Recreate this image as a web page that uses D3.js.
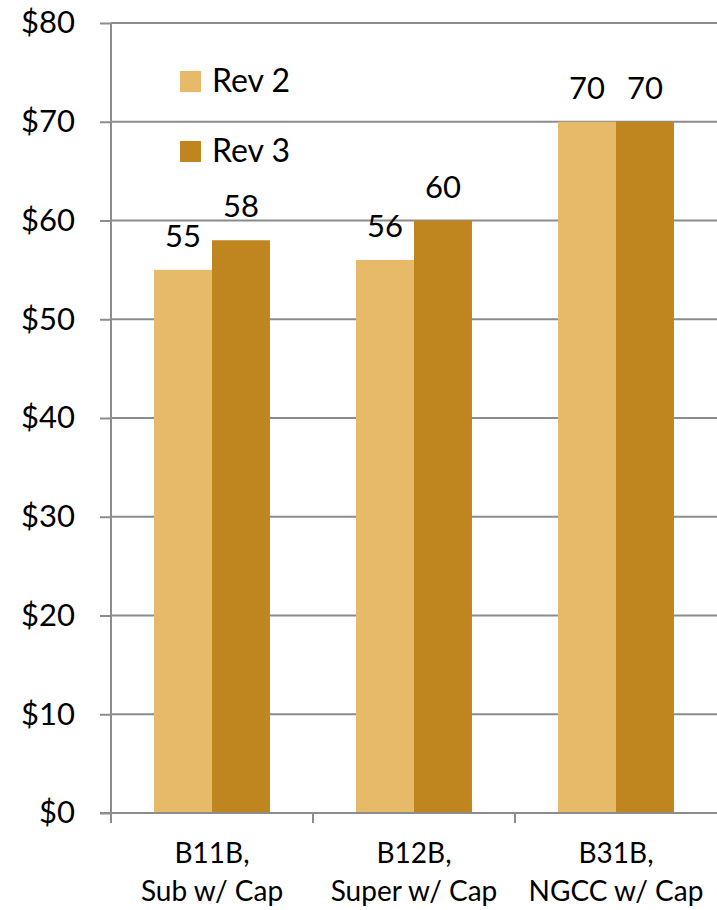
<!DOCTYPE html>
<html>
<head>
<meta charset="utf-8">
<script src="https://cdn.jsdelivr.net/npm/d3@7"></script>
<style>
  html, body { margin: 0; padding: 0; background: #fff; }
  svg { display: block; }
  text { font-family: Lato, "Open Sans", sans-serif; fill: #000; }
</style>
</head>
<body>
<svg id="chart" width="717" height="910"></svg>
<script>
// Categories (two-line labels) and the series plotted for each
const categories = ["B11B", "B12B", "B31B"];
const categoryLines = [
  ["B11B,", "Sub w/ Cap"],
  ["B12B,", "Super w/ Cap"],
  ["B31B,", "NGCC w/ Cap"]
];
const seriesNames = ["Rev 2", "Rev 3"];
const rev2Values = [55, 56, 70];
const rev3Values = [58, 60, 70];
const yTicks = [0, 10, 20, 30, 40, 50, 60, 70, 80];

const colors = { "Rev 2": "#E7BA6A", "Rev 3": "#BF8620" };
const gridColor = "#8C8C8C";

const svg = d3.select("#chart");
const plotLeft = 111, plotRight = 717, plotTop = 23, plotBottom = 813;

const x0 = d3.scaleBand()
  .domain(categories)
  .range([plotLeft, plotRight])
  .paddingInner(0.426)
  .paddingOuter(0.213);

const x1 = d3.scaleBand()
  .domain(seriesNames)
  .range([0, x0.bandwidth()]);

const y = d3.scaleLinear().domain([0, 80]).range([plotBottom, plotTop]);

// Horizontal gridlines
svg.append("g")
  .selectAll("line")
  .data(yTicks.filter(d => d > 0))
  .join("line")
  .attr("x1", plotLeft).attr("x2", plotRight)
  .attr("y1", d => y(d)).attr("y2", d => y(d))
  .attr("stroke", gridColor)
  .attr("stroke-width", 2);

// Bars
const rows = categories.map((c, i) => ({
  cat: c,
  vals: [
    { s: "Rev 2", v: rev2Values[i] },
    { s: "Rev 3", v: rev3Values[i] }
  ]
}));

const groups = svg.append("g")
  .selectAll("g")
  .data(rows)
  .join("g")
  .attr("transform", d => `translate(${x0(d.cat)},0)`);

groups.selectAll("rect")
  .data(d => d.vals)
  .join("rect")
  .attr("x", d => x1(d.s))
  .attr("width", x1.bandwidth())
  .attr("y", d => y(d.v))
  .attr("height", d => y(0) - y(d.v))
  .attr("fill", d => colors[d.s]);

// Value labels above bars
groups.selectAll("text")
  .data(d => d.vals)
  .join("text")
  .attr("x", d => x1(d.s) + x1.bandwidth() / 2)
  .attr("y", d => y(d.v) - 23)
  .attr("text-anchor", "middle")
  .style("font-size", "31px")
  .text(d => d.v);

// Y axis
const yAxis = d3.axisLeft(y)
  .tickValues(yTicks)
  .tickSize(11)
  .tickPadding(25)
  .tickFormat(d => "$" + d);

const yg = svg.append("g")
  .attr("transform", `translate(${plotLeft},0)`)
  .call(yAxis);
yg.select(".domain").remove();
yg.selectAll(".tick line").attr("stroke", gridColor).attr("stroke-width", 2);
yg.selectAll(".tick text")
  .style("font-size", "31px")
  .style("font-family", "Lato, 'Open Sans', sans-serif")
  .attr("fill", "#000");

// Vertical axis line (runs slightly below baseline)
svg.append("line")
  .attr("x1", plotLeft).attr("x2", plotLeft)
  .attr("y1", plotTop).attr("y2", plotBottom + 10)
  .attr("stroke", gridColor).attr("stroke-width", 2);

// X axis baseline and category dividers
svg.append("line")
  .attr("x1", plotLeft - 11).attr("x2", plotRight)
  .attr("y1", plotBottom).attr("y2", plotBottom)
  .attr("stroke", gridColor).attr("stroke-width", 2);

const dividers = categories.slice(1).map(c => x0(c) - x0.step() * x0.paddingInner() / 2);
svg.append("g")
  .selectAll("line")
  .data(dividers)
  .join("line")
  .attr("x1", d => d).attr("x2", d => d)
  .attr("y1", plotBottom).attr("y2", plotBottom + 10)
  .attr("stroke", gridColor).attr("stroke-width", 2);

// Category labels
const catLabels = svg.append("g")
  .selectAll("text")
  .data(categories)
  .join("text")
  .attr("text-anchor", "middle")
  .attr("x", d => x0(d) + x0.bandwidth() / 2)
  .attr("y", 863)
  .style("font-size", "28px");

catLabels.selectAll("tspan")
  .data((d, i) => categoryLines[i])
  .join("tspan")
  .attr("x", function () { return this.parentNode.getAttribute("x"); })
  .attr("dy", (d, i) => i === 0 ? 0 : 38)
  .text(d => d);

// Legend
const legend = svg.append("g")
  .selectAll("g")
  .data(seriesNames)
  .join("g")
  .attr("transform", (d, i) => `translate(180,${71 + i * 70})`);

legend.append("rect")
  .attr("width", 21).attr("height", 21)
  .attr("fill", d => colors[d]);

legend.append("text")
  .attr("x", 32).attr("y", 21)
  .style("font-size", "32px")
  .text(d => d);
</script>
</body>
</html>
